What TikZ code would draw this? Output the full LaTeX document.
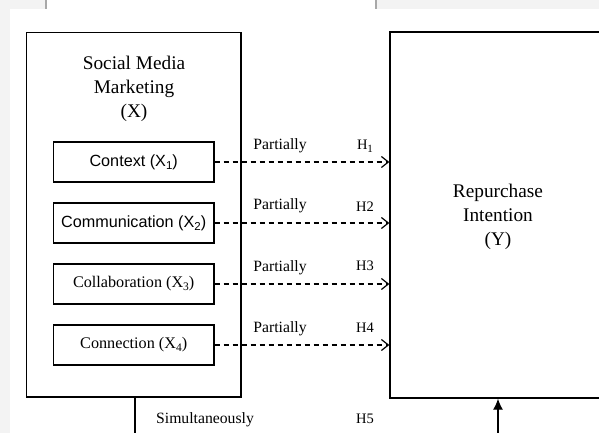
\documentclass[tikz,border=0pt]{standalone}
\usepackage{fontspec}
\setmainfont{Liberation Serif}
\newfontfamily\arialfont{Liberation Sans}
\usetikzlibrary{arrows.meta}
\definecolor{bggrey}{HTML}{F3F3F3}
\definecolor{edgegrey}{HTML}{A8A8A8}
\newcommand\subidx[2]{\raisebox{-0.38ex}{\fontsize{#1}{#1}\selectfont #2}}
\begin{document}
\begin{tikzpicture}[x=1pt,y=-1pt,
  boxline/.style={draw=black,line width=1.3pt},
  bigbox/.style={boxline,rectangle,inner sep=0pt},
  itembox/.style={boxline,rectangle,inner sep=0pt,minimum width=160.7pt,minimum height=40pt},
  titletext/.style={align=center,font=\fontsize{19.3}{24}\selectfont,inner sep=0pt},
  itemtext/.style={font=\fontsize{16.2}{19}\selectfont},
  labeltext/.style={font=\fontsize{15.7}{18}\selectfont,inner sep=0pt},
  htext/.style={font=\fontsize{14.5}{17}\selectfont,inner sep=0pt},
  partarrow/.style={line width=1.2pt,dash pattern=on 5.5pt off 3.5pt,-{Straight Barb[length=7pt,width=11pt,line width=1.2pt]}},
  solidline/.style={line width=1.3pt},
  uparrow/.style={line width=1.3pt,-{Latex[length=11pt,width=10pt]}}
]
\path[use as bounding box] (0,0) rectangle (599,433);
\clip (0,0) rectangle (599,433);
% background of the screenshot
\fill[white] (0,0) rectangle (599,433);
\fill[bggrey] (0,0) rectangle (10,433);
\fill[bggrey] (0,0) rectangle (46,9);
\fill[bggrey] (376,0) rectangle (599,9);
\draw[edgegrey,line width=1.6pt] (46,0) -- (46,9);
\draw[edgegrey,line width=1.6pt] (376,0) -- (376,9);

% main boxes
\node[bigbox,minimum width=214.3pt,minimum height=364.7pt] (X) at (133.85,214.65) {};
\node[titletext] (Xt) at (134,89) {Social Media\\Marketing\\(X)};
\node[bigbox,minimum width=216pt,minimum height=366pt] (Y) at (498,215) {};
\node[titletext] (Yt) at (498,217) {Repurchase\\Intention\\(Y)};

% dimension boxes
\node[itembox,itemtext] (c1) at (133.7,162) {\arialfont Context (X\subidx{11.5}{1})};
\node[itembox,itemtext] (c2) at (133.7,223) {\arialfont Communication (X\subidx{11.5}{2})};
\node[itembox,itemtext] (c3) at (133.7,284) {Collaboration (X\subidx{11.5}{3})};
\node[itembox,itemtext] (c4) at (133.7,345) {Connection (X\subidx{11.5}{4})};

% partial arrows
\draw[partarrow] (c1.east) -- (c1.east -| Y.west);
\draw[partarrow] (c2.east) -- (c2.east -| Y.west);
\draw[partarrow] (c3.east) -- (c3.east -| Y.west);
\draw[partarrow] (c4.east) -- (c4.east -| Y.west);

\node[labeltext] (p1) at (280,146) {Partially};
\node[labeltext] (p2) at (280,206) {Partially};
\node[labeltext] (p3) at (280,268) {Partially};
\node[labeltext] (p4) at (280,329) {Partially};
\node[htext] (h1) at (365,146) {H\subidx{11}{1}};
\node[htext] (h2) at (365,207) {H2};
\node[htext] (h3) at (365,266) {H3};
\node[htext] (h4) at (365,328) {H4};

% simultaneous path
\coordinate (b1) at (135,440);
\coordinate (b2) at (498,440);
\draw[solidline] (X.south -| b1) -- (b1);
\draw[uparrow] (b2) -- (Y.south -| b2);
\node[labeltext] (s) at (205,420) {Simultaneously};
\node[htext] (h5) at (365,419) {H5};
\end{tikzpicture}
\end{document}
